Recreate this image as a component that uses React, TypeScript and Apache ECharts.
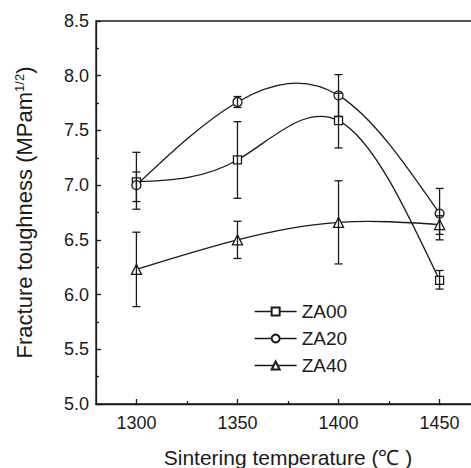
import React, { useEffect, useRef } from "react";
import * as echarts from "echarts";

const temperatures = [1300, 1350, 1400, 1450];
const seriesNames = ["ZA00", "ZA20", "ZA40"];
const za00 = [7.03, 7.23, 7.59, 6.13];
const za00Low = [6.85, 6.88, 7.34, 6.05];
const za00High = [7.12, 7.58, 7.84, 6.22];
const za20 = [7.0, 7.76, 7.82, 6.74];
const za20Low = [6.78, 7.71, 7.63, 6.5];
const za20High = [7.3, 7.81, 8.01, 6.97];
const za40 = [6.23, 6.5, 6.66, 6.64];
const za40Low = [5.89, 6.33, 6.28, 6.55];
const za40High = [6.57, 6.67, 7.04, 6.72];
const xMajorTicks = [1300, 1350, 1400, 1450];
const xMinorTicks = [1325, 1375, 1425];

const INK = "#1a1a1a";
const FONT = "Liberation Sans, Arial, sans-serif";

// natural cubic spline second derivatives
function splineM(xs: number[], ys: number[]): number[] {
  const n = xs.length;
  const M = new Array(n).fill(0);
  if (n < 3) return M;
  const a: number[] = [], b: number[] = [], c: number[] = [], d: number[] = [];
  for (let i = 1; i < n - 1; i++) {
    const h0 = xs[i] - xs[i - 1];
    const h1 = xs[i + 1] - xs[i];
    a.push(h0);
    b.push(2 * (h0 + h1));
    c.push(h1);
    d.push(6 * ((ys[i + 1] - ys[i]) / h1 - (ys[i] - ys[i - 1]) / h0));
  }
  const m = b.length;
  for (let i = 1; i < m; i++) {
    const w = a[i] / b[i - 1];
    b[i] -= w * c[i - 1];
    d[i] -= w * d[i - 1];
  }
  const sol = new Array(m).fill(0);
  sol[m - 1] = d[m - 1] / b[m - 1];
  for (let i = m - 2; i >= 0; i--) sol[i] = (d[i] - c[i] * sol[i + 1]) / b[i];
  for (let i = 0; i < m; i++) M[i + 1] = sol[i];
  return M;
}

export default function App() {
  const ref = useRef<HTMLDivElement>(null);
  useEffect(() => {
    if (!ref.current) return;
    const chart = echarts.init(ref.current, undefined, { renderer: "svg" });
    const vals = [za00, za20, za40];
    const lows = [za00Low, za20Low, za40Low];
    const highs = [za00High, za20High, za40High];
    const symbols = ["rect", "circle", "triangle"];
    const symbolSizes = [8, 9, 10];

    const errData: number[][] = [];
    for (let s = 0; s < 3; s++) {
      for (let i = 0; i < temperatures.length; i++) {
        errData.push([temperatures[i], lows[s][i], highs[s][i]]);
      }
    }

    const curveSeries = seriesNames.map((name, s) => {
      const ys = vals[s];
      const M = splineM(temperatures, ys);
      return {
        type: "custom",
        name: name + "-curve",
        data: temperatures.map((t, i) => [t, ys[i]]),
        z: 1,
        silent: true,
        renderItem: (params: any, api: any) => {
          const i = params.dataIndex;
          if (i >= temperatures.length - 1) return null;
          const x0 = temperatures[i], x1 = temperatures[i + 1];
          const y0 = ys[i], y1 = ys[i + 1];
          const h = x1 - x0;
          const slope = (y1 - y0) / h;
          const d0 = slope - (h * (2 * M[i] + M[i + 1])) / 6;
          const d1 = slope + (h * (M[i] + 2 * M[i + 1])) / 6;
          const p0 = api.coord([x0, y0]);
          const p1 = api.coord([x0 + h / 3, y0 + (d0 * h) / 3]);
          const p2 = api.coord([x1 - h / 3, y1 - (d1 * h) / 3]);
          const p3 = api.coord([x1, y1]);
          return {
            type: "bezierCurve",
            shape: {
              x1: p0[0], y1: p0[1],
              cpx1: p1[0], cpy1: p1[1],
              cpx2: p2[0], cpy2: p2[1],
              x2: p3[0], y2: p3[1],
            },
            style: { stroke: INK, fill: "none", lineWidth: 1.3 },
          };
        },
      };
    });

    const markerSeries = seriesNames.map((name, s) => ({
      name,
      type: "line",
      data: temperatures.map((t, i) => [t, vals[s][i]]),
      symbol: symbols[s],
      symbolSize: symbolSizes[s],
      showAllSymbol: true,
      itemStyle: { color: "#fff", borderColor: INK, borderWidth: 1.3 },
      lineStyle: { color: INK, width: 1.3, opacity: 0 },
      z: 3,
    }));

    const option = {
      animation: false,
      backgroundColor: "#fff",
      grid: {
        left: 96,
        top: 21,
        right: -9,
        bottom: 64,
        outerBoundsMode: "none",
        containLabel: false,
        show: true,
        borderColor: INK,
        borderWidth: 1.3,
        backgroundColor: "transparent",
      },
      legend: {
        data: seriesNames,
        orient: "vertical",
        left: 249,
        top: 297,
        itemWidth: 42,
        itemHeight: 10,
        itemGap: 8,
        lineStyle: { color: INK, width: 1.3, opacity: 1 },
        textStyle: { color: INK, fontSize: 19, fontFamily: FONT },
      },
      xAxis: [
        {
          type: "value",
          min: 1280,
          max: 1470,
          name: "Sintering temperature (\u2103 )",
          nameLocation: "middle",
          nameGap: 43,
          nameTextStyle: { color: INK, fontSize: 21, fontFamily: FONT },
          axisLine: { show: true, lineStyle: { color: INK, width: 1.3 } },
          axisTick: {
            show: true,
            inside: true,
            length: 5,
            customValues: xMajorTicks,
            lineStyle: { color: INK, width: 1.3 },
          },
          axisLabel: {
            customValues: xMajorTicks,
            color: INK,
            fontSize: 18,
            fontFamily: FONT,
            margin: 10,
            formatter: (v: number) => String(v),
          },
          splitLine: { show: false },
        },
        {
          type: "value",
          min: 1280,
          max: 1470,
          position: "bottom",
          axisLine: { show: false },
          axisTick: {
            show: true,
            inside: true,
            length: 3,
            customValues: xMinorTicks,
            lineStyle: { color: INK, width: 1.3 },
          },
          axisLabel: { show: false },
          splitLine: { show: false },
        },
      ],
      yAxis: {
        type: "value",
        min: 5,
        max: 8.5,
        interval: 0.5,
        name: "Fracture toughness (MPam{sup|1/2})",
        nameLocation: "middle",
        nameGap: 61,
        nameTextStyle: {
          color: INK,
          fontSize: 22,
          fontFamily: FONT,
          rich: {
            sup: { fontSize: 13, fontFamily: FONT, color: INK, verticalAlign: "top", lineHeight: 13, padding: [0, 0, 10, 0] },
          },
        },
        axisLine: { show: true, lineStyle: { color: INK, width: 1.3 } },
        axisTick: { show: true, inside: true, length: 5, lineStyle: { color: INK, width: 1.3 } },
        minorTick: { show: true, splitNumber: 2, length: 3, lineStyle: { color: INK, width: 1.3 } },
        axisLabel: {
          color: INK,
          fontSize: 18,
          fontFamily: FONT,
          margin: 7,
          formatter: (v: number) => v.toFixed(1),
        },
        splitLine: { show: false },
      },
      series: [
        ...curveSeries,
        ...markerSeries,
        {
          type: "custom",
          name: "err",
          data: errData,
          z: 4,
          silent: true,
          renderItem: (params: any, api: any) => {
            const x = api.value(0);
            const lo = api.coord([x, api.value(1)]);
            const hi = api.coord([x, api.value(2)]);
            const w = 4;
            const style = { stroke: INK, lineWidth: 1.3 };
            return {
              type: "group",
              children: [
                { type: "line", shape: { x1: lo[0], y1: lo[1], x2: hi[0], y2: hi[1] }, style },
                { type: "line", shape: { x1: lo[0] - w, y1: lo[1], x2: lo[0] + w, y2: lo[1] }, style },
                { type: "line", shape: { x1: hi[0] - w, y1: hi[1], x2: hi[0] + w, y2: hi[1] }, style },
              ],
            };
          },
        },
      ],
    };
    chart.setOption(option as any);
    return () => chart.dispose();
  }, []);
  return <div ref={ref} style={{ width: 471, height: 468, position: "absolute", left: 0, top: 0 }} />;
}
